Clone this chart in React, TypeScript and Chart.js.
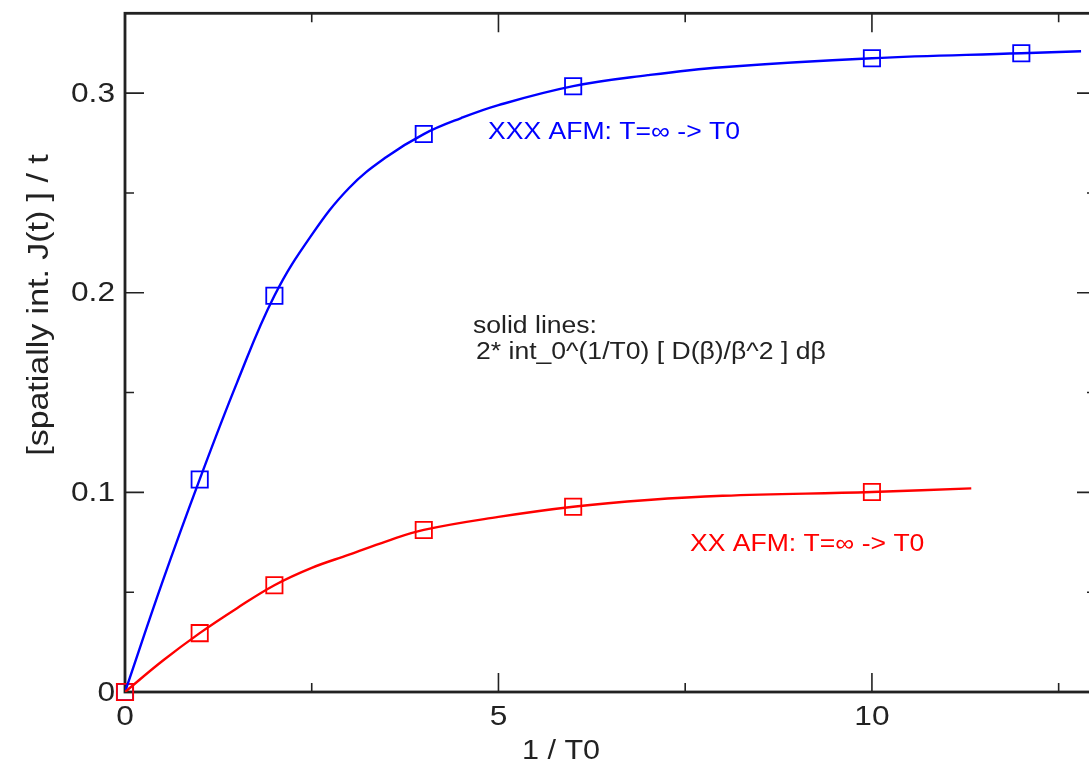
import { useEffect, useRef } from "react";
import { Chart, registerables } from "chart.js";

Chart.register(...registerables);

// ---- data ----
const xxxMarkX = [0, 1, 2, 4, 6, 10, 12];
const xxxMarkY = [0, 0.1065, 0.1985, 0.2795, 0.3035, 0.3175, 0.32];
const xxMarkX = [0, 1, 2, 4, 6, 10];
const xxMarkY = [0, 0.0295, 0.0535, 0.0812, 0.0928, 0.1002];

const xxxCurveX = [0, 0.5, 1, 1.5, 2, 2.5, 3, 3.5, 4, 4.5, 5, 6, 7, 8, 10, 12, 12.8];
const xxxCurveY = [0, 0.055, 0.1065, 0.155, 0.1985, 0.229, 0.2525, 0.268, 0.2795, 0.2875, 0.294, 0.3035, 0.309, 0.313, 0.3175, 0.32, 0.321];
const xxCurveX = [0, 0.5, 1, 1.5, 2, 2.5, 3, 3.5, 4, 5, 6, 7, 8, 10, 11.33];
const xxCurveY = [0, 0.0155, 0.0295, 0.042, 0.0535, 0.0622, 0.0688, 0.0755, 0.0812, 0.0877, 0.0928, 0.0962, 0.0983, 0.1002, 0.102];

const xMajorTicks = [0, 5, 10];
const xMajorLabels = ["0", "5", "10"];
const xMinorTicks = [2.5, 7.5, 12.5];
const yMajorTicks = [0, 0.1, 0.2, 0.3];
const yMajorLabels = ["0", "0.1", "0.2", "0.3"];
const yMinorTicks = [0.05, 0.15, 0.25];

const xTitle = "1 / T0";
const yTitle = "[spatially int. J(t) ] / t";
const xxxLabel = "XXX AFM: T=\u221E -> T0";
const xxLabel = "XX AFM: T=\u221E -> T0";
const noteLine1 = "solid lines:";
const noteLine2 = "2* int_0^(1/T0) [ D(\u03B2)/\u03B2^2 ] d\u03B2";

const X_MIN = 0;
const X_MAX = 13;
const Y_MIN = 0;
const Y_MAX = 0.34;

const BLUE = "#0000ff";
const RED = "#ff0000";
const INK = "#222222";
const FONT = "'Liberation Sans', Arial, Helvetica, sans-serif";
const STRETCH = 1.13;

function pts(xs: number[], ys: number[]) {
  return xs.map((x, i) => ({ x, y: ys[i] }));
}

function drawText(
  ctx: CanvasRenderingContext2D,
  text: string,
  x: number,
  y: number,
  size: number,
  color: string,
  align: CanvasTextAlign,
  rotate = 0
) {
  ctx.save();
  ctx.translate(x, y);
  if (rotate) ctx.rotate(rotate);
  ctx.scale(STRETCH, 1);
  ctx.font = `${size}px ${FONT}`;
  ctx.fillStyle = color;
  ctx.textAlign = align;
  ctx.textBaseline = "middle";
  ctx.fillText(text, 0, 0);
  ctx.restore();
}

const framePlugin = {
  id: "framePlugin",
  beforeDatasetsDraw(chart: any) {
    const ctx: CanvasRenderingContext2D = chart.ctx;
    const { left, right, top, bottom } = chart.chartArea;
    const xs = chart.scales.x;
    const ys = chart.scales.y;
    ctx.save();
    ctx.strokeStyle = INK;
    ctx.lineWidth = 1.6;
    const major = 19;
    const minor = 9;
    ctx.beginPath();
    for (const v of xMajorTicks) {
      const px = xs.getPixelForValue(v);
      ctx.moveTo(px, bottom); ctx.lineTo(px, bottom - major);
      ctx.moveTo(px, top); ctx.lineTo(px, top + major);
    }
    for (const v of xMinorTicks) {
      const px = xs.getPixelForValue(v);
      ctx.moveTo(px, bottom); ctx.lineTo(px, bottom - minor);
      ctx.moveTo(px, top); ctx.lineTo(px, top + minor);
    }
    for (const v of yMajorTicks) {
      const py = ys.getPixelForValue(v);
      ctx.moveTo(left, py); ctx.lineTo(left + major, py);
      ctx.moveTo(right, py); ctx.lineTo(right - major, py);
    }
    for (const v of yMinorTicks) {
      const py = ys.getPixelForValue(v);
      ctx.moveTo(left, py); ctx.lineTo(left + minor, py);
      ctx.moveTo(right, py); ctx.lineTo(right - minor, py);
    }
    ctx.stroke();
    ctx.lineWidth = 2.8;
    ctx.strokeRect(left, top, right - left, bottom - top);
    ctx.restore();
  },
  afterDraw(chart: any) {
    const ctx: CanvasRenderingContext2D = chart.ctx;
    const { left, bottom } = chart.chartArea;
    const xs = chart.scales.x;
    const ys = chart.scales.y;
    xMajorTicks.forEach((v, i) => {
      drawText(ctx, xMajorLabels[i], xs.getPixelForValue(v), bottom + 25, 28, INK, "center");
    });
    yMajorTicks.forEach((v, i) => {
      drawText(ctx, yMajorLabels[i], left - 10, ys.getPixelForValue(v) + 1, 28, INK, "right");
    });
    drawText(ctx, xTitle, 561, 752, 27, INK, "center");
    drawText(ctx, yTitle, 40, 305, 30, INK, "center", -Math.PI / 2);
    drawText(ctx, xxxLabel, 488, 133, 23.5, BLUE, "left");
    drawText(ctx, xxLabel, 690, 545, 23.5, RED, "left");
    drawText(ctx, noteLine1, 473, 327, 23.5, INK, "left");
    drawText(ctx, noteLine2, 476, 353, 23.5, INK, "left");
  },
};

export default function App() {
  const ref = useRef<HTMLCanvasElement | null>(null);

  useEffect(() => {
    const canvas = ref.current;
    if (!canvas) return;
    const chart = new Chart(canvas, {
      type: "scatter",
      data: {
        datasets: [
          {
            data: pts(xxCurveX, xxCurveY),
            showLine: true,
            borderColor: RED,
            borderWidth: 2.4,
            pointRadius: 0,
            tension: 0.4,
            fill: false,
          },
          {
            data: pts(xxxCurveX, xxxCurveY),
            showLine: true,
            borderColor: BLUE,
            borderWidth: 2.4,
            pointRadius: 0,
            tension: 0.4,
            fill: false,
          },
          {
            data: pts(xxMarkX, xxMarkY),
            showLine: false,
            pointStyle: "rect",
            pointRadius: 11.5,
            pointBorderWidth: 1.8,
            pointBorderColor: RED,
            pointBackgroundColor: "rgba(0,0,0,0)",
            clip: false,
          },
          {
            data: pts(xxxMarkX, xxxMarkY),
            showLine: false,
            pointStyle: "rect",
            pointRadius: 11.5,
            pointBorderWidth: 1.8,
            pointBorderColor: BLUE,
            pointBackgroundColor: "rgba(0,0,0,0)",
            clip: false,
          },
        ] as any,
      },
      options: {
        responsive: false,
        maintainAspectRatio: false,
        devicePixelRatio: 1,
        animation: false,
        events: [],
        layout: { padding: { left: 125, top: 12, right: 14, bottom: 83 } },
        plugins: { legend: { display: false }, tooltip: { enabled: false } },
        scales: {
          x: { type: "linear", min: X_MIN, max: X_MAX, display: false },
          y: { type: "linear", min: Y_MIN, max: Y_MAX, display: false },
        },
      },
      plugins: [framePlugin],
    });
    return () => chart.destroy();
  }, []);

  return (
    <div
      style={{
        position: "fixed",
        left: 0,
        top: 0,
        width: 1089,
        height: 775,
        overflow: "hidden",
        background: "#ffffff",
      }}
    >
      <canvas ref={ref} width={1110} height={775} style={{ display: "block" }} />
    </div>
  );
}
